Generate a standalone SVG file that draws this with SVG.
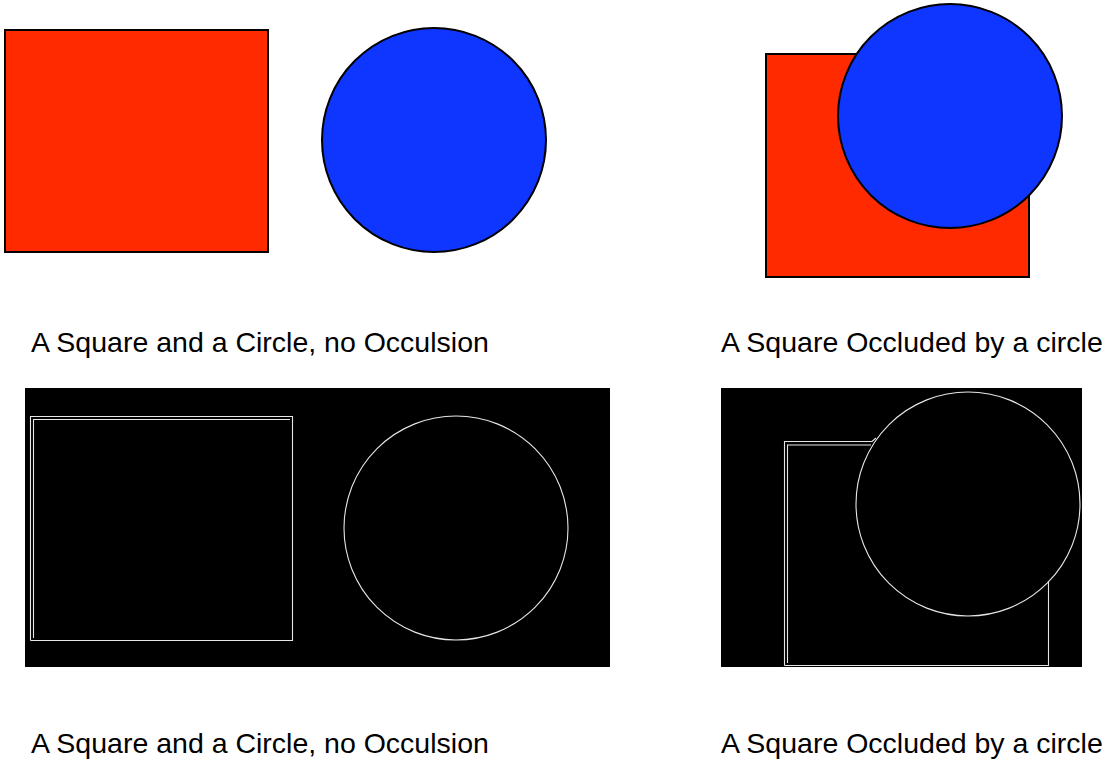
<svg xmlns="http://www.w3.org/2000/svg" width="1110" height="773" viewBox="0 0 1110 773">
<style>
.sq{fill:#ff2a00;stroke:#000;stroke-width:2}
.ci{fill:#0f36ff;stroke:#000;stroke-width:2}
.bg{fill:#000}
.edge{fill:none;stroke:#e6e6e6;stroke-width:1.1}
.cap{font-family:"Liberation Sans",Arial,Helvetica,sans-serif;font-size:28.5px;fill:#000}
</style>
<rect width="1110" height="773" fill="#fff"/>
<g id="panel-top-left">
<rect class="sq" x="5" y="30" width="263" height="222"/>
<circle class="ci" cx="434" cy="140" r="112"/>
</g>
<g id="panel-top-right">
<rect class="sq" x="766" y="54" width="263" height="223"/>
<circle class="ci" cx="950" cy="116" r="112"/>
</g>
<g id="panel-bottom-left">
<rect class="bg" x="25" y="388" width="585" height="279"/>
<path class="edge" d="M30.5 640.5 V416.5 H292.5 V640.5 H30.5"/>
<path class="edge" d="M33.5 638 V419.5 H290"/>
<circle class="edge" cx="456" cy="528" r="112"/>
</g>
<g id="panel-bottom-right">
<rect class="bg" x="721" y="388" width="361" height="279"/>
<path class="edge" d="M784.5 665.5 V441.5 H872 L876 438"/>
<path class="edge" d="M787.5 663 V445 H871"/>
<path class="edge" d="M1048.5 581 V665.5 H784.5"/>
<circle class="edge" cx="968" cy="504" r="112"/>
</g>
<g id="captions">
<text class="cap" x="31" y="352">A Square and a Circle, no Occulsion</text>
<text class="cap" x="721" y="352">A Square Occluded by a circle</text>
<text class="cap" x="31" y="753">A Square and a Circle, no Occulsion</text>
<text class="cap" x="721" y="753">A Square Occluded by a circle</text>
</g>
</svg>
